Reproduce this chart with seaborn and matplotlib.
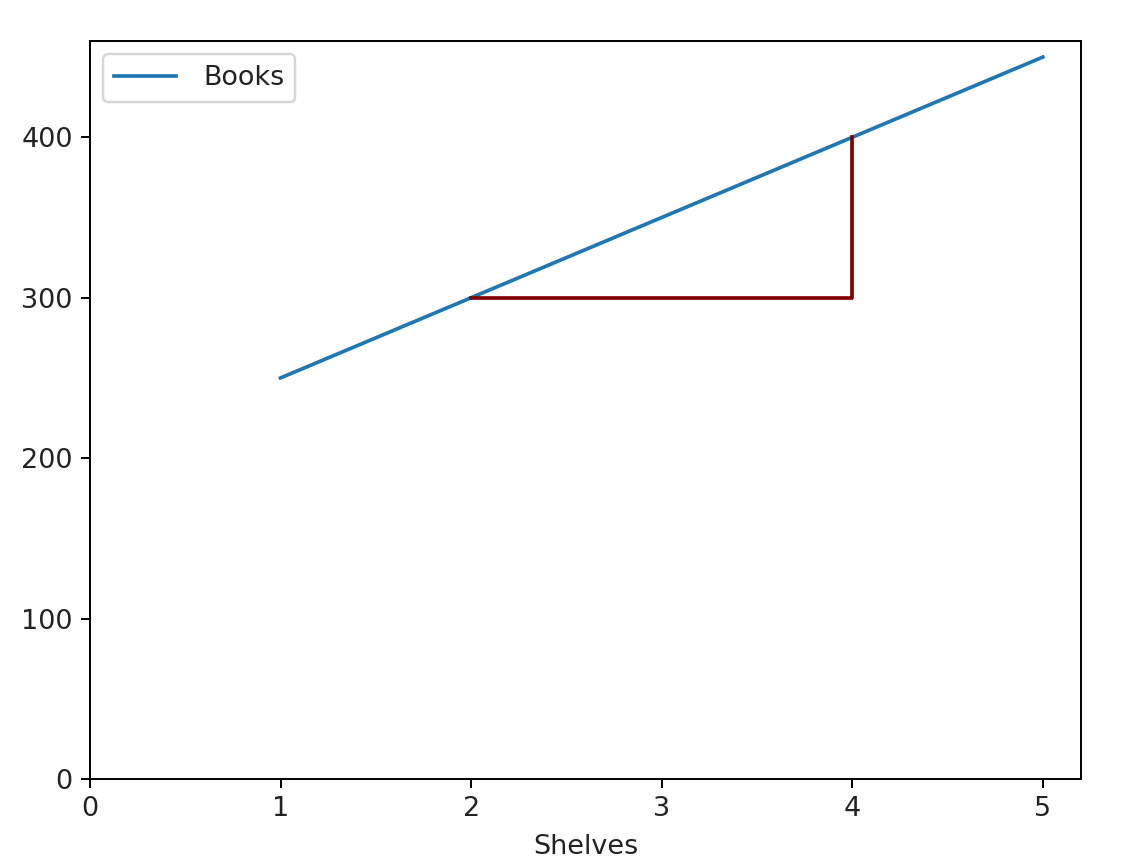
import matplotlib
matplotlib.use("Agg")
import matplotlib.pyplot as plt
import seaborn as sns
import pandas as pd

shelves = [1, 2, 3, 4, 5]
books = [250, 300, 350, 400, 450]
tri_x = [2, 4, 4]
tri_y = [300, 300, 400]

df = pd.DataFrame({"Shelves": shelves, "Books": books})

plt.rcParams["font.size"] = 11
plt.rcParams["text.color"] = "#222222"
plt.rcParams["xtick.labelcolor"] = "#222222"
plt.rcParams["ytick.labelcolor"] = "#222222"
plt.rcParams["axes.labelcolor"] = "#222222"

dpi = 176.5
fig = plt.figure(figsize=(1130 / dpi, 866 / dpi), dpi=dpi)
ax = fig.add_axes([90 / 1130, 1 - 779 / 866, (1081 - 90) / 1130, (779 - 41) / 866])

sns.lineplot(data=df, x="Shelves", y="Books", ax=ax, label="Books", color="#1f77b4")
ax.plot(tri_x, tri_y, color="#800000", linewidth=1.5)

ax.set_xlim(0, 5.2)
ax.set_ylim(0, 460)
ax.set_ylabel("")
ax.set_xlabel("Shelves", labelpad=5)
ax.legend(loc="upper left", handlelength=2.3, handletextpad=1.0)

fig.savefig("out.png", dpi=dpi)
